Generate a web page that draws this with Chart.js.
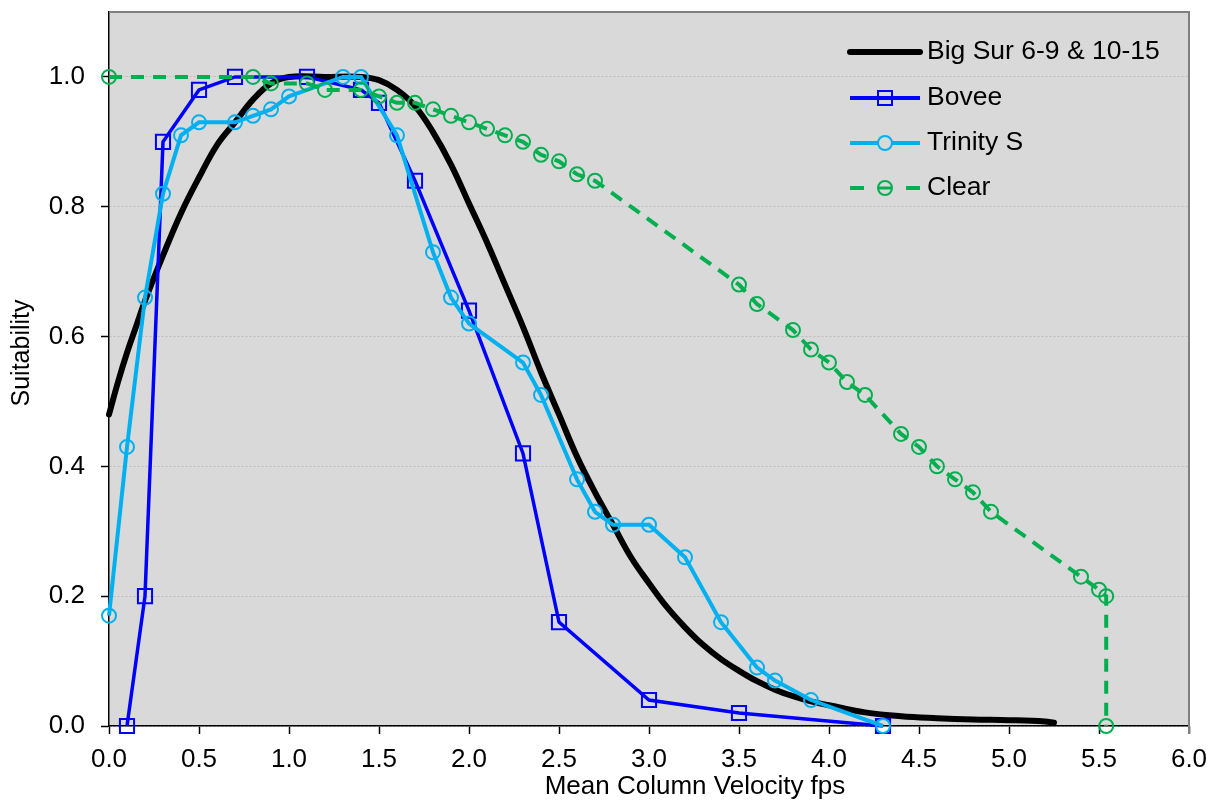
<!DOCTYPE html>
<html lang="en">
<head>
    <meta charset="UTF-8">
    <title>Suitability vs Mean Column Velocity</title>
    <script src="https://cdn.jsdelivr.net/npm/chart.js"></script>
    <style>
        body { margin: 0; background: #ffffff; }
        #wrap { width: 1215px; height: 804px; }
    </style>
</head>
<body>
    <div id="wrap">
        <canvas id="suitabilityChart" width="1215" height="804"></canvas>
    </div>

    <script>
        // Series (velocity in fps, suitability 0-1)
        const bigSurX = [0, 0.05, 0.1, 0.15, 0.2, 0.3, 0.4, 0.5, 0.6, 0.7, 0.8, 0.9, 1.0, 1.2, 1.4, 1.5, 1.6, 1.7, 1.8, 1.9, 2.0, 2.1, 2.2, 2.3, 2.4, 2.5, 2.6, 2.7, 2.8, 2.9, 3.0, 3.1, 3.2, 3.3, 3.4, 3.5, 3.6, 3.7, 3.8, 3.9, 4.0, 4.2, 4.4, 4.6, 4.8, 5.0, 5.2, 5.25];
        const bigSurY = [0.48, 0.53, 0.575, 0.615, 0.655, 0.725, 0.79, 0.845, 0.895, 0.93, 0.965, 0.99, 1.0, 1.0, 1.0, 0.995, 0.98, 0.955, 0.915, 0.865, 0.805, 0.745, 0.68, 0.615, 0.545, 0.48, 0.415, 0.36, 0.31, 0.26, 0.22, 0.183, 0.152, 0.125, 0.103, 0.085, 0.069, 0.056, 0.046, 0.038, 0.032, 0.021, 0.015, 0.012, 0.01, 0.009, 0.007, 0.005];

        const boveeX = [0.1, 0.2, 0.3, 0.5, 0.7, 1.1, 1.4, 1.5, 1.7, 2.0, 2.3, 2.5, 3.0, 3.5, 4.3];
        const boveeY = [0, 0.2, 0.9, 0.98, 1.0, 1.0, 0.98, 0.96, 0.84, 0.64, 0.42, 0.16, 0.04, 0.02, 0];

        const trinityX = [0, 0.1, 0.2, 0.3, 0.4, 0.5, 0.7, 0.8, 0.9, 1.0, 1.3, 1.4, 1.6, 1.8, 1.9, 2.0, 2.3, 2.4, 2.6, 2.7, 2.8, 3.0, 3.2, 3.4, 3.6, 3.7, 3.9, 4.3];
        const trinityY = [0.17, 0.43, 0.66, 0.82, 0.91, 0.93, 0.93, 0.94, 0.95, 0.97, 1.0, 1.0, 0.91, 0.73, 0.66, 0.62, 0.56, 0.51, 0.38, 0.33, 0.31, 0.31, 0.26, 0.16, 0.09, 0.07, 0.04, 0];

        const clearX = [0, 0.8, 0.9, 1.1, 1.2, 1.4, 1.5, 1.6, 1.7, 1.8, 1.9, 2.0, 2.1, 2.2, 2.3, 2.4, 2.5, 2.6, 2.7, 3.5, 3.6, 3.8, 3.9, 4.0, 4.1, 4.2, 4.4, 4.5, 4.6, 4.7, 4.8, 4.9, 5.4, 5.5, 5.54, 5.54];
        const clearY = [1.0, 1.0, 0.99, 0.99, 0.98, 0.98, 0.97, 0.96, 0.96, 0.95, 0.94, 0.93, 0.92, 0.91, 0.90, 0.88, 0.87, 0.85, 0.84, 0.68, 0.65, 0.61, 0.58, 0.56, 0.53, 0.51, 0.45, 0.43, 0.40, 0.38, 0.36, 0.33, 0.23, 0.21, 0.20, 0];

        const seriesNames = ['Big Sur 6-9 & 10-15', 'Bovee', 'Trinity S', 'Clear'];
        const xTitle = 'Mean Column Velocity fps';
        const yTitle = 'Suitability';

        const FONT = '"Liberation Sans", Arial, sans-serif';
        const pairs = (xs, ys) => xs.map((x, i) => ({ x: x, y: ys[i] }));

        // grey plot area + grey top/right frame + axis titles (placed like the original, a bit off-centre)
        const plotFrame = {
            id: 'plotFrame',
            beforeDraw(chart) {
                const { ctx, chartArea: a } = chart;
                ctx.save();
                ctx.fillStyle = '#d9d9d9';
                ctx.fillRect(a.left, a.top, a.right - a.left, a.bottom - a.top);
                ctx.restore();
            },
            afterDraw(chart) {
                const { ctx, chartArea: a } = chart;
                ctx.save();
                ctx.strokeStyle = '#808080';
                ctx.lineWidth = 2;
                ctx.beginPath();
                ctx.moveTo(a.left, a.top);
                ctx.lineTo(a.right, a.top);
                ctx.lineTo(a.right, a.bottom + 8);
                ctx.stroke();

                ctx.fillStyle = '#000';
                ctx.textAlign = 'center';
                ctx.textBaseline = 'middle';
                ctx.font = '26px ' + FONT;
                ctx.fillText(xTitle, 695, 787);
                ctx.translate(22, 353);
                ctx.rotate(-Math.PI / 2);
                ctx.font = '25px ' + FONT;
                ctx.fillText(yTitle, 0, 0);
                ctx.restore();
            }
        };

        // legend drawn inside the plot, top right, no box
        const insideLegend = {
            id: 'insideLegend',
            afterDraw(chart) {
                const ctx = chart.ctx;
                const rowsY = [52, 98, 143, 188];
                const x0 = 850, x1 = 920, mx = 885, tx = 927;
                ctx.save();
                chart.data.datasets.forEach((ds, i) => {
                    const y = rowsY[i];
                    ctx.strokeStyle = ds.borderColor;
                    ctx.lineWidth = i === 0 ? 6 : 4;
                    ctx.lineCap = i === 0 ? 'round' : 'butt';
                    ctx.setLineDash([]);
                    ctx.beginPath();
                    if (i === 3) {
                        ctx.moveTo(x0, y); ctx.lineTo(x0 + 14, y);
                        ctx.moveTo(x1 - 14, y); ctx.lineTo(x1, y);
                    } else {
                        ctx.moveTo(x0, y); ctx.lineTo(x1, y);
                    }
                    ctx.stroke();
                    if (i > 0) {
                        ctx.lineWidth = 2;
                        ctx.fillStyle = '#d9d9d9';
                        ctx.beginPath();
                        if (ds.pointStyle === 'rect') {
                            ctx.rect(mx - 7, y - 7, 14, 14);
                        } else {
                            ctx.arc(mx, y, 7, 0, Math.PI * 2);
                        }
                        if (i === 1) {
                            ctx.stroke();
                        } else {
                            ctx.fill();
                            ctx.stroke();
                        }
                        if (i === 3) {
                            ctx.lineWidth = 3;
                            ctx.beginPath();
                            ctx.moveTo(mx - 6, y); ctx.lineTo(mx + 6, y);
                            ctx.stroke();
                        }
                    }
                    ctx.fillStyle = '#000';
                    ctx.font = '26.5px ' + FONT;
                    ctx.textAlign = 'left';
                    ctx.textBaseline = 'middle';
                    ctx.fillText(ds.label, tx, y);
                });
                ctx.restore();
            }
        };

        const ctx = document.getElementById('suitabilityChart').getContext('2d');
        const suitabilityChart = new Chart(ctx, {
            type: 'scatter',
            data: {
                datasets: [
                    {
                        label: seriesNames[0],
                        data: pairs(bigSurX, bigSurY),
                        showLine: true,
                        borderColor: '#000000',
                        borderWidth: 6,
                        pointRadius: 0,
                        tension: 0.4,
                        borderCapStyle: 'round',
                        clip: false,
                        order: 4
                    },
                    {
                        label: seriesNames[1],
                        data: pairs(boveeX, boveeY),
                        showLine: true,
                        borderColor: '#0000ff',
                        borderWidth: 3.5,
                        pointStyle: 'rect',
                        pointRadius: 10,
                        pointBorderWidth: 2,
                        pointBorderColor: '#0000ff',
                        pointBackgroundColor: 'rgba(0,0,0,0)',
                        clip: false,
                        order: 3
                    },
                    {
                        label: seriesNames[2],
                        data: pairs(trinityX, trinityY),
                        showLine: true,
                        borderColor: '#00b0f0',
                        borderWidth: 4,
                        pointStyle: 'circle',
                        pointRadius: 7,
                        pointBorderWidth: 2,
                        pointBorderColor: '#00b0f0',
                        pointBackgroundColor: 'rgba(0,0,0,0)',
                        clip: false,
                        order: 2
                    },
                    {
                        label: seriesNames[3],
                        data: pairs(clearX, clearY),
                        showLine: true,
                        borderColor: '#00b050',
                        borderWidth: 4,
                        borderDash: [13, 9],
                        pointStyle: 'circle',
                        pointRadius: 7,
                        pointBorderWidth: 2,
                        pointBorderColor: '#00b050',
                        pointBackgroundColor: 'rgba(0,0,0,0)',
                        clip: false,
                        order: 1
                    }
                ]
            },
            options: {
                responsive: false,
                animation: false,
                layout: { padding: { top: 11, right: 26, bottom: 0, left: 0 } },
                plugins: {
                    legend: { display: false },
                    tooltip: { enabled: false }
                },
                scales: {
                    x: {
                        type: 'linear',
                        min: 0,
                        max: 6,
                        ticks: {
                            stepSize: 0.5,
                            padding: 10,
                            color: '#000',
                            font: { family: FONT, size: 26 },
                            callback: (v) => Number(v).toFixed(1)
                        },
                        grid: {
                            drawOnChartArea: false,
                            drawTicks: true,
                            tickLength: 8,
                            tickColor: '#000',
                            tickWidth: 1.5
                        },
                        border: { display: true, color: '#000', width: 1.5 },
                        title: { display: false },
                        afterFit: (scale) => {
                            scale.height = 78;
                            scale.paddingLeft = 0;
                            scale.paddingRight = 0;
                        }
                    },
                    y: {
                        type: 'linear',
                        min: 0,
                        max: 1.1,
                        ticks: {
                            stepSize: 0.2,
                            padding: 16,
                            color: '#000',
                            font: { family: FONT, size: 26 },
                            callback: (v) => Number(v).toFixed(1)
                        },
                        afterBuildTicks: (scale) => {
                            scale.ticks = scale.ticks.filter(t => t.value <= 1.0001);
                        },
                        grid: {
                            color: '#bdbdbd',
                            lineWidth: 1,
                            drawTicks: true,
                            tickLength: 8,
                            tickColor: '#000',
                            tickWidth: 1.5,
                            tickBorderDash: []
                        },
                        border: { display: true, color: '#000', width: 1.5, dash: [2, 2] },
                        title: { display: false },
                        afterFit: (scale) => {
                            scale.width = 109;
                            scale.paddingTop = 0;
                            scale.paddingBottom = 0;
                        }
                    }
                }
            },
            plugins: [plotFrame, insideLegend]
        });
    </script>
</body>
</html>
